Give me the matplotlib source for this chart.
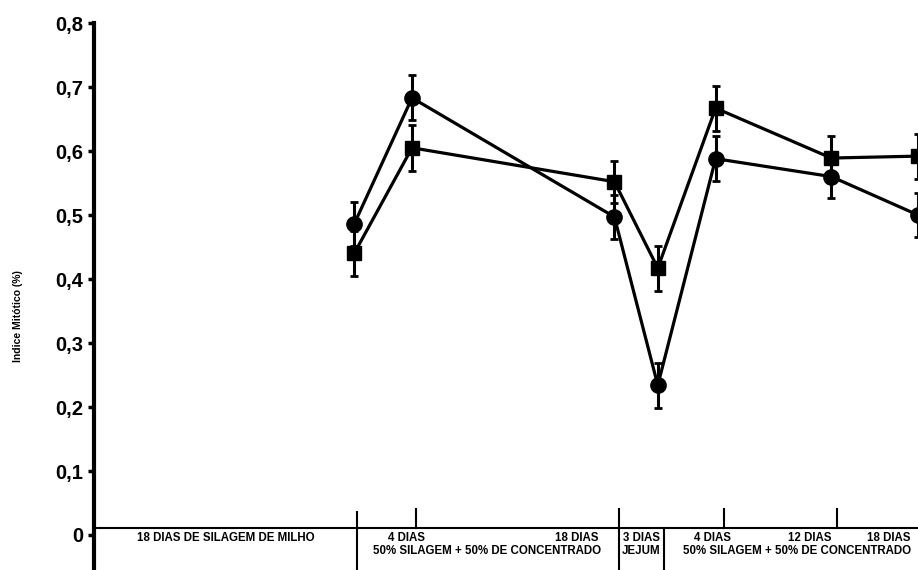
import numpy as np
import matplotlib
matplotlib.use("Agg")
import matplotlib.pyplot as plt

plt.rcParams["font.family"] = ["Liberation Sans", "DejaVu Sans"]
plt.rcParams["font.weight"] = "bold"

# days since start of the experiment
days = [18, 22, 36, 39, 43, 51, 57]

circle_mean = [0.486, 0.683, 0.497, 0.234, 0.588, 0.560, 0.500]
circle_err = [0.034, 0.035, 0.035, 0.035, 0.035, 0.034, 0.035]

square_mean = [0.440, 0.605, 0.552, 0.417, 0.667, 0.589, 0.592]
square_err = [0.035, 0.036, 0.033, 0.035, 0.035, 0.034, 0.035]

y_ticks = [0, 0.1, 0.2, 0.3, 0.4, 0.5, 0.6, 0.7, 0.8]
y_labels = ["0", "0,1", "0,2", "0,3", "0,4", "0,5", "0,6", "0,7", "0,8"]


def main():
    fig = plt.figure(figsize=(9.18, 5.70), dpi=100)
    ax = fig.add_axes([94 / 918, 0, 1 - 94 / 918, (570 - 23) / 570])

    ylow = -35 / 640
    ax.set_xlim(0, 57)
    ax.set_ylim(ylow, 0.8)

    for mean, err, mk, ms in [(circle_mean, circle_err, "o", 11),
                              (square_mean, square_err, "s", 10)]:
        ax.errorbar(days, mean, yerr=err, color="black", marker=mk,
                    markersize=ms, lw=2.3, elinewidth=2.2, capsize=3,
                    capthick=2, zorder=3)

    # label table under the curves
    base = 0.011
    ax.axhline(base, color="black", lw=1.5)
    for x, top in [(18.2, 0.036), (36.3, 0.041), (39.45, base)]:
        ax.plot([x, x], [ylow, top], color="black", lw=1.5)
    for x in [22.3, 43.6, 51.4]:
        ax.plot([x, x], [base, 0.04], color="black", lw=1.5)

    fs = 8.3
    row1 = -0.005
    row2 = -0.025
    ax.text(9.1, row1, "18 DIAS DE SILAGEM DE MILHO", ha="center", va="center", fontsize=fs)
    ax.text(21.6, row1, "4 DIAS", ha="center", va="center", fontsize=fs)
    ax.text(27.2, row2, "50% SILAGEM + 50% DE CONCENTRADO", ha="center", va="center", fontsize=fs)
    ax.text(33.4, row1, "18 DIAS", ha="center", va="center", fontsize=fs)
    ax.text(37.85, row1, "3 DIAS", ha="center", va="center", fontsize=fs)
    ax.text(37.85, row2, "JEJUM", ha="center", va="center", fontsize=fs)
    ax.text(42.8, row1, "4 DIAS", ha="center", va="center", fontsize=fs)
    ax.text(49.5, row1, "12 DIAS", ha="center", va="center", fontsize=fs)
    ax.text(55.0, row1, "18 DIAS", ha="center", va="center", fontsize=fs)
    ax.text(48.6, row2, "50% SILAGEM + 50% DE CONCENTRADO", ha="center", va="center", fontsize=fs)

    for s in ["top", "right", "bottom"]:
        ax.spines[s].set_visible(False)
    ax.spines["left"].set_linewidth(3)
    ax.set_xticks([])
    ax.set_yticks(y_ticks)
    ax.set_yticklabels(y_labels, fontsize=14.5, fontweight="bold")
    ax.tick_params(axis="y", direction="out", length=4, width=2.5, pad=4)

    fig.text(18 / 918, 1 - 316 / 570, "Indice Mitótico (%)", rotation=90,
             ha="center", va="center", fontsize=7.5, fontweight="bold")

    fig.savefig("out.png", dpi=100)


main()
